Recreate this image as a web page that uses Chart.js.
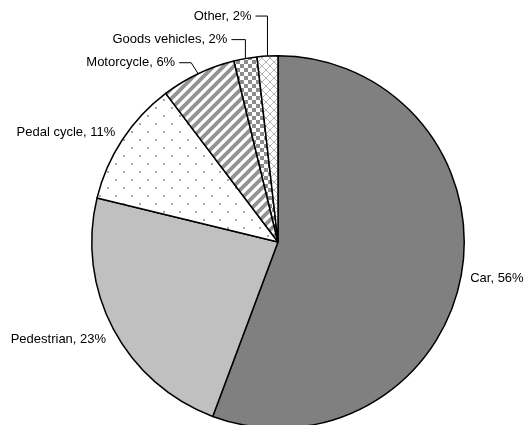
<!DOCTYPE html>
<html>
<head>
<meta charset="utf-8">
<script src="https://cdn.jsdelivr.net/npm/chart.js@4.4.1/dist/chart.umd.min.js"></script>
<style>
  html, body { margin: 0; padding: 0; background: #fff; overflow: hidden; }
  #wrap { width: 525px; height: 425px; overflow: hidden; }
</style>
</head>
<body>
<div id="wrap"><canvas id="chartCanvas" width="525" height="440"></canvas></div>
<script>
// casualties by road user type (share of total, %)
const categories = ["Car", "Pedestrian", "Pedal cycle", "Motorcycle", "Goods vehicles", "Other"];
const shares = [55.7, 23.1, 10.9, 6.5, 2.0, 1.8];
const shareLabels = ["56%", "23%", "11%", "6%", "2%", "2%"];

// label placement: small slices get a leader line (rise, then horizontal tail)
const leaderRise = [0, 0, 0, 11, 19, 40];
const leaderTail = [0, 0, 0, 12, 14, 12];

const makeTile = (w, h, draw) => {
  const c = document.createElement("canvas");
  c.width = w;
  c.height = h;
  const ctx = c.getContext("2d");
  ctx.fillStyle = "#fff";
  ctx.fillRect(0, 0, w, h);
  draw(ctx);
  return document.getElementById("chartCanvas").getContext("2d").createPattern(c, "repeat");
};

const dots = makeTile(16, 16, (ctx) => {
  ctx.fillStyle = "#a8a8a8";
  ctx.fillRect(3, 3, 2, 2);
  ctx.fillRect(11, 11, 2, 2);
});

const stripes = makeTile(10, 10, (ctx) => {
  ctx.strokeStyle = "#939393";
  ctx.lineWidth = 3.8;
  [[0, 10, 10, 0], [-5, 5, 5, -5], [5, 15, 15, 5]].forEach(([a, b, c, d]) => {
    ctx.beginPath();
    ctx.moveTo(a, b);
    ctx.lineTo(c, d);
    ctx.stroke();
  });
});

const checks = makeTile(8, 8, (ctx) => {
  ctx.fillStyle = "#8c8c8c";
  ctx.fillRect(0, 0, 4, 4);
  ctx.fillRect(4, 4, 4, 4);
});

const lattice = makeTile(8, 8, (ctx) => {
  ctx.strokeStyle = "#b4b4b4";
  ctx.lineWidth = 1;
  ctx.beginPath();
  ctx.moveTo(0, 8);
  ctx.lineTo(8, 0);
  ctx.moveTo(0, 4);
  ctx.lineTo(4, 8);
  ctx.moveTo(4, 0);
  ctx.lineTo(8, 4);
  ctx.stroke();
});

const fills = ["#808080", "#c0c0c0", dots, stripes, checks, lattice];

const outsideLabels = {
  id: "outsideLabels",
  afterDatasetsDraw(chart) {
    const ctx = chart.ctx;
    const arcs = chart.getDatasetMeta(0).data;
    ctx.save();
    ctx.font = "13px 'Liberation Sans', Arial, sans-serif";
    ctx.fillStyle = "#000";
    ctx.strokeStyle = "#000";
    ctx.lineWidth = 1;
    ctx.textBaseline = "middle";
    arcs.forEach((arc, i) => {
      const mid = (arc.startAngle + arc.endAngle) / 2;
      const r = arc.outerRadius;
      const cos = Math.cos(mid);
      const sin = Math.sin(mid);
      const text = categories[i] + ", " + shareLabels[i];
      if (leaderRise[i] === 0) {
        const x = arc.x + (r + 6) * cos;
        const y = arc.y + (r + 6) * sin + (sin > 0 ? sin * 15 : -4);
        ctx.textAlign = cos >= 0 ? "left" : "right";
        ctx.fillText(text, x + (cos >= 0 ? 3 : -2), y);
      } else {
        const x0 = arc.x + r * cos;
        const y0 = arc.y + r * sin;
        const x1 = x0 + (i === 3 ? -7 : 0);
        const y1 = y0 - leaderRise[i];
        const x2 = x1 - leaderTail[i];
        ctx.beginPath();
        ctx.moveTo(x0, y0);
        ctx.lineTo(x1, y1);
        ctx.lineTo(x2, y1);
        ctx.stroke();
        ctx.textAlign = "right";
        ctx.fillText(text, x2 - 4, y1);
      }
    });
    ctx.restore();
  },
};

new Chart(document.getElementById("chartCanvas"), {
  type: "pie",
  data: {
    labels: categories,
    datasets: [
      {
        data: shares,
        backgroundColor: fills,
        borderColor: "#000",
        borderWidth: 1.5,
      },
    ],
  },
  options: {
    responsive: false,
    animation: false,
    events: [],
    layout: { padding: { top: 55, bottom: 11, left: 91, right: 60 } },
    plugins: {
      legend: { display: false },
      tooltip: { enabled: false },
    },
  },
  plugins: [outsideLabels],
});
</script>
</body>
</html>
